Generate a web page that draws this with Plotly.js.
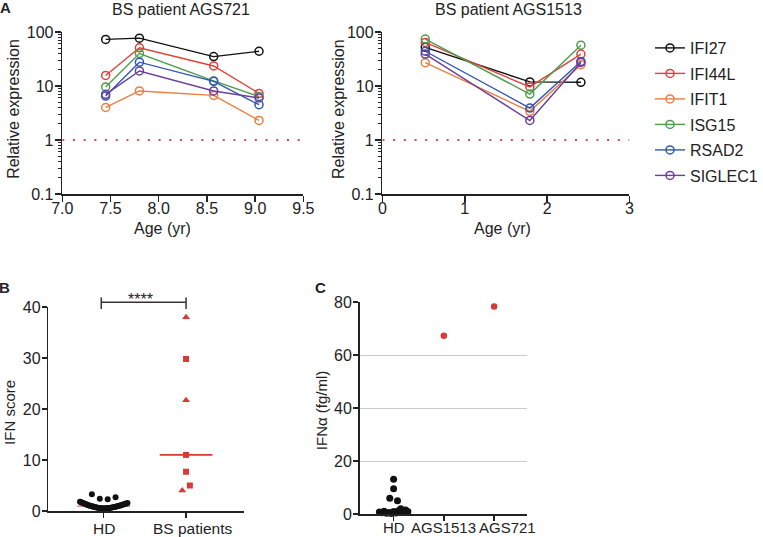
<!DOCTYPE html>
<html>
<head>
<meta charset="utf-8">
<script src="https://cdn.plot.ly/plotly-3.0.1.min.js"></script>
<style>
html,body{margin:0;padding:0;background:#fff;}
#chart{width:763px;height:537px;}
</style>
</head>
<body>
<div id="chart"></div>
<script>
// ---------------- DATA ----------------
const genes = ['IFI27', 'IFI44L', 'IFIT1', 'ISG15', 'RSAD2', 'SIGLEC1'];

// Panel A, patient AGS721 (age in years, relative expression)
const ageAGS721 = [7.45, 7.80, 8.57, 9.04];
const exprAGS721_IFI27   = [73, 77, 35, 44];
const exprAGS721_IFI44L  = [15.7, 51, 23.5, 7.3];
const exprAGS721_IFIT1   = [4.0, 8.1, 6.7, 2.3];
const exprAGS721_ISG15   = [9.6, 40, 12.4, 6.4];
const exprAGS721_RSAD2   = [6.5, 27.6, 12.2, 4.5];
const exprAGS721_SIGLEC1 = [7.0, 19, 8.1, 6.0];

// Panel A, patient AGS1513
const ageAGS1513 = [0.52, 1.79, 2.41];
const exprAGS1513_IFI27   = [52, 11.9, 11.7];
const exprAGS1513_IFI44L  = [64, 9.6, 39];
const exprAGS1513_IFIT1   = [27, 3.4, 24.8];
const exprAGS1513_ISG15   = [74, 7.1, 57];
const exprAGS1513_RSAD2   = [44, 3.9, 28.5];
const exprAGS1513_SIGLEC1 = [39, 2.3, 27.3];

const controlLevel = 1;   // relative expression of controls

// Panel B, IFN score (values listed left to right as they sit in the dot plot)
const bCategories = ['HD', 'BS patients'];
const hdScoreArc = [1.80, 1.70, 1.61, 1.50, 1.41, 1.32, 1.23, 1.15, 1.07, 1.00,
                    0.93, 0.86, 0.80, 0.74, 0.69, 0.64, 0.60, 0.56, 0.53, 0.51,
                    0.50,
                    0.51, 0.53, 0.55, 0.58, 0.61, 0.65, 0.70, 0.74, 0.79, 0.85,
                    0.90, 0.96, 1.03, 1.09, 1.16, 1.23, 1.31, 1.39, 1.47, 1.55];
const hdScoreHigh = [3.3, 2.4, 2.3, 2.7];
const bsScore   = [38.0, 29.8, 21.7, 11.0, 7.7, 4.0, 5.0];
const bsPatient = ['AGS1513', 'AGS721', 'AGS1513', 'AGS721', 'AGS721', 'AGS1513', 'AGS721'];

// Panel C, IFN-alpha (fg/ml)
const cCategories = ['HD', 'AGS1513', 'AGS721'];
const hdIfnLow  = [0.8, 0.5, 1.0, 0.3, 0.6, 0.2, 0.9, 0.4, 1.2, 2.0, 0.7, 1.5, 0.9];
const hdIfnHigh = [9.5, 13.1, 5.9, 5.0];
const patientIfn = [67.3, 78.3];   // AGS1513, AGS721

// ---------------- STYLE / LAYOUT ----------------
const W = 763, H = 537;
const FONT = 'Liberation Sans, Arial, Helvetica, sans-serif';
const TXT = '#222';
const geneColors = ['#111111', '#e0413a', '#ec7d3c', '#4f9d4b', '#3156b3', '#6a3f9e'];
const RED = '#d63b35';

const px = x => x / W;
const py = y => 1 - y / H;

// plot areas in pixels
const A1 = {x0: 63, x1: 307, y0: 32, y1: 194};
const A2 = {x0: 387, x1: 637, y0: 32, y1: 194};
const PB = {x0: 49, x1: 247, y0: 307, y1: 511};
const PC = {x0: 364, x1: 533, y0: 302, y1: 514};

const a1XRange = [7, 9.5];
const a2XRange = [0, 3];
const bXRange = [-0.672, 1.705];
const cXRange = [-0.675, 2.649];

const bPxPerUnit = (PB.x1 - PB.x0) / (bXRange[1] - bXRange[0]);
const cPxPerUnit = (PC.x1 - PC.x0) / (cXRange[1] - cXRange[0]);

// spread points that share a row (chained values closer than thresh) side by side
function groupSpread(values, center, thresh, spacingPx, pxPerUnit) {
  const idx = values.map((v, i) => i).sort((a, b) => values[a] - values[b]);
  const groups = [];
  let cur = [idx[0]];
  for (let k = 1; k < idx.length; k++) {
    if (values[idx[k]] - values[idx[k - 1]] < thresh) cur.push(idx[k]);
    else { groups.push(cur); cur = [idx[k]]; }
  }
  groups.push(cur);
  const xs = new Array(values.length);
  const step = spacingPx / pxPerUnit;
  groups.forEach(g => {
    g.sort((a, b) => a - b);
    g.forEach((i, j) => { xs[i] = center + (j - (g.length - 1) / 2) * step; });
  });
  return xs;
}
function median(arr) {
  const s = arr.slice().sort((a, b) => a - b);
  const n = s.length;
  return n % 2 ? s[(n - 1) / 2] : (s[n / 2 - 1] + s[n / 2]) / 2;
}

const seriesAGS721 = [exprAGS721_IFI27, exprAGS721_IFI44L, exprAGS721_IFIT1, exprAGS721_ISG15, exprAGS721_RSAD2, exprAGS721_SIGLEC1];
const seriesAGS1513 = [exprAGS1513_IFI27, exprAGS1513_IFI44L, exprAGS1513_IFIT1, exprAGS1513_ISG15, exprAGS1513_RSAD2, exprAGS1513_SIGLEC1];

const traces = [];

// control-level dotted lines
[[a1XRange, 'x', 'y'], [a2XRange, 'x2', 'y2']].forEach(([rng, xa, ya]) => {
  traces.push({
    x: rng, y: [controlLevel, controlLevel], xaxis: xa, yaxis: ya,
    mode: 'lines', line: {color: '#e04848', width: 2, dash: '2px,8.7px'},
    showlegend: false, hoverinfo: 'skip'
  });
});

function geneTrace(i, ages, vals, xa, ya, legend) {
  return {
    x: ages, y: vals, xaxis: xa, yaxis: ya, name: genes[i],
    legendgroup: genes[i], showlegend: legend,
    mode: 'lines+markers',
    line: {color: geneColors[i], width: 1.4},
    marker: {symbol: 'circle-open', size: 8, color: geneColors[i], line: {width: 1.5, color: geneColors[i]}},
    cliponaxis: false
  };
}
genes.forEach((g, i) => traces.push(geneTrace(i, ageAGS721, seriesAGS721[i], 'x', 'y', true)));
genes.forEach((g, i) => traces.push(geneTrace(i, ageAGS1513, seriesAGS1513[i], 'x2', 'y2', false)));

// Panel B
const hdAll = hdScoreArc.concat(hdScoreHigh);
const hdMed = median(hdAll);
const bsMed = median(bsScore);
const medHalf = 0.32;
traces.push({x: [0 - medHalf, 0 + medHalf], y: [hdMed, hdMed], xaxis: 'x3', yaxis: 'y3',
  mode: 'lines', line: {color: '#e58a8a', width: 1.6}, showlegend: false, hoverinfo: 'skip', cliponaxis: false});
traces.push({x: groupSpread(hdScoreArc, 0, 1.5, 1.2, bPxPerUnit), y: hdScoreArc, xaxis: 'x3', yaxis: 'y3',
  mode: 'markers', marker: {color: '#111', size: 6}, showlegend: false, cliponaxis: false});
traces.push({x: groupSpread(hdScoreHigh, 0, 1.5, 8, bPxPerUnit), y: hdScoreHigh, xaxis: 'x3', yaxis: 'y3',
  mode: 'markers', marker: {color: '#111', size: 6}, showlegend: false, cliponaxis: false});
traces.push({x: [1 - medHalf, 1 + medHalf], y: [bsMed, bsMed], xaxis: 'x3', yaxis: 'y3',
  mode: 'lines', line: {color: RED, width: 1.6}, showlegend: false, hoverinfo: 'skip'});
const bsX = groupSpread(bsScore, 1, 1.5, 7.7, bPxPerUnit);
[['AGS721', 'square', 6], ['AGS1513', 'triangle-up', 7]].forEach(([p, sym, sz]) => {
  const xs = [], ys = [];
  bsScore.forEach((v, i) => { if (bsPatient[i] === p) { xs.push(bsX[i]); ys.push(v); } });
  traces.push({x: xs, y: ys, xaxis: 'x3', yaxis: 'y3', mode: 'markers', name: p,
    marker: {color: RED, size: sz, symbol: sym}, showlegend: false, cliponaxis: false});
});

// Panel C
traces.push({x: groupSpread(hdIfnLow, 0, 5, 2.4, cPxPerUnit), y: hdIfnLow, xaxis: 'x4', yaxis: 'y4',
  mode: 'markers', marker: {color: '#111', size: 7}, showlegend: false, cliponaxis: false});
traces.push({x: groupSpread(hdIfnHigh, 0, 2.6, 7.8, cPxPerUnit), y: hdIfnHigh, xaxis: 'x4', yaxis: 'y4',
  mode: 'markers', marker: {color: '#111', size: 7}, showlegend: false, cliponaxis: false});
traces.push({x: [1, 2], y: patientIfn, xaxis: 'x4', yaxis: 'y4', mode: 'markers',
  marker: {color: RED, size: 6.5}, showlegend: false, cliponaxis: false});

// axes
const tickFont = {family: FONT, size: 16, color: TXT};
const base = {showline: true, linecolor: '#222', linewidth: 1.6, ticks: 'outside', ticklen: 5, tickwidth: 1.5,
  tickcolor: '#222', showgrid: false, zeroline: false, tickfont: tickFont, fixedrange: true, mirror: false};

const minorLogVals = [];
[0.1, 1, 10].forEach(d => { for (let k = 2; k <= 9; k++) minorLogVals.push(d * k); });
function logY(anchor, area) {
  return Object.assign({}, base, {
    type: 'log', range: [-1, 2], domain: [py(area.y1), py(area.y0)], anchor: anchor,
    tickmode: 'array', tickvals: [0.1, 1, 10, 100], ticktext: ['0.1', '1', '10', '100'],
    ticklen: 6, ticklabelstandoff: -2,
    minor: {tickmode: 'array', tickvals: minorLogVals, ticks: 'outside', ticklen: 3, tickwidth: 1, tickcolor: '#222', showgrid: false}
  });
}

const layout = {
  width: W, height: H, margin: {l: 0, r: 0, t: 0, b: 0},
  paper_bgcolor: '#fff', plot_bgcolor: 'rgba(0,0,0,0)',
  font: {family: FONT, color: TXT},
  showlegend: true,
  legend: {x: px(658), y: py(31), xanchor: 'left', yanchor: 'top', font: {family: FONT, size: 16, color: TXT},
    tracegroupgap: 1.7, bgcolor: 'rgba(0,0,0,0)', borderwidth: 0},
  xaxis: Object.assign({}, base, {range: a1XRange, domain: [px(A1.x0), px(A1.x1)], anchor: 'y',
    tickmode: 'linear', tick0: 7, dtick: 0.5, tickformat: '.1f', ticklen: 6, ticklabelstandoff: -7}),
  yaxis: logY('x', A1),
  xaxis2: Object.assign({}, base, {range: a2XRange, domain: [px(A2.x0), px(A2.x1)], anchor: 'y2',
    tickmode: 'linear', tick0: 0, dtick: 1, ticklen: 6, ticklabelstandoff: -7}),
  yaxis2: logY('x2', A2),
  xaxis3: Object.assign({}, base, {range: bXRange, domain: [px(PB.x0), px(PB.x1)], anchor: 'y3',
    tickmode: 'array', tickvals: [0, 1], showticklabels: false}),
  yaxis3: Object.assign({}, base, {range: [0, 40], domain: [py(PB.y1), py(PB.y0)], anchor: 'x3',
    tickmode: 'linear', tick0: 0, dtick: 10, ticklabelstandoff: -2}),
  xaxis4: Object.assign({}, base, {range: cXRange, domain: [px(PC.x0), px(PC.x1)], anchor: 'y4',
    tickmode: 'array', tickvals: [0, 1, 2], showticklabels: false}),
  yaxis4: Object.assign({}, base, {range: [0, 80], domain: [py(PC.y1), py(PC.y0)], anchor: 'x4',
    tickmode: 'linear', tick0: 0, dtick: 20, showgrid: true, gridcolor: '#cccccc', gridwidth: 1, ticklabelstandoff: -2}),
  shapes: [],
  annotations: []
};

function ann(text, x, y, size, extra) {
  return Object.assign({xref: 'paper', yref: 'paper', x: px(x), y: py(y), text: text, showarrow: false,
    xanchor: 'center', yanchor: 'middle', font: {family: FONT, size: size, color: TXT}}, extra || {});
}
const A = layout.annotations;
A.push(ann('<b>A</b>', 6, 8, 15));
A.push(ann('<b>B</b>', 5, 287, 15));
A.push(ann('<b>C</b>', 324, 287, 15));
A.push(ann('BS patient AGS721', 183, 10, 16));
A.push(ann('BS patient AGS1513', 515, 10, 16));
A.push(ann('Relative expression', 14, 109, 16, {textangle: -90}));
A.push(ann('Relative expression', 343, 109, 16, {textangle: -90}));
A.push(ann('Age (yr)', 164, 228, 16));
A.push(ann('Age (yr)', 508, 228, 16));
A.push(ann('IFN score', 9, 412, 15, {textangle: -90}));
A.push(ann('IFN\u03b1 (fg/ml)', 325, 410, 15, {textangle: -90}));

// category labels under B and C (through the axes' scales)
const bShift = [0, 7];
bCategories.forEach((c, i) => A.push({xref: 'x3', yref: 'paper', x: i, y: py(528), text: c, showarrow: false,
  xanchor: 'center', yanchor: 'middle', xshift: bShift[i], font: {family: FONT, size: 15.5, color: TXT}}));
const cShift = [0, 0, 13];
cCategories.forEach((c, i) => A.push({xref: 'x4', yref: 'paper', x: i, y: py(527), text: c, showarrow: false,
  xanchor: 'center', yanchor: 'middle', xshift: cShift[i], font: {family: FONT, size: 15, color: TXT}}));

// significance bracket
const brY = 302.3, brL = -0.03, brR = 1;
layout.shapes.push({type: 'line', xref: 'x3', yref: 'paper', x0: brL, x1: brR, y0: py(brY), y1: py(brY), line: {color: '#333', width: 1.5}});
layout.shapes.push({type: 'line', xref: 'x3', yref: 'paper', x0: brL, x1: brL, y0: py(297.5), y1: py(309), line: {color: '#333', width: 1.5}});
layout.shapes.push({type: 'line', xref: 'x3', yref: 'paper', x0: brR, x1: brR, y0: py(297.5), y1: py(309), line: {color: '#333', width: 1.5}});
A.push(ann('****', 141.7, 299, 16));

Plotly.newPlot('chart', traces, layout, {staticPlot: true, displayModeBar: false});
</script>
</body>
</html>
